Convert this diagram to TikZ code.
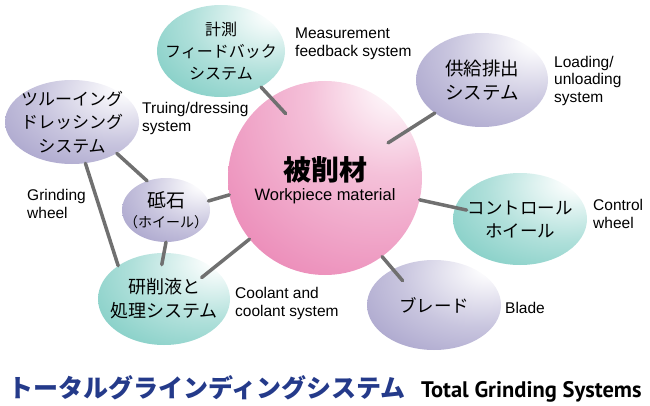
\documentclass[tikz,border=0pt]{standalone}
\usepackage{fontspec}
\setmainfont{Liberation Sans}
\newfontfamily\jp{Noto Sans CJK JP}
\newfontfamily\ttl{PT Sans}
\usetikzlibrary{shapes.geometric}

\definecolor{tealA}{RGB}{110,198,188}
\definecolor{lilacA}{RGB}{156,150,196}
\definecolor{pinkA}{RGB}{236,142,186}
\definecolor{linkgray}{RGB}{112,112,112}
\definecolor{titleblue}{RGB}{36,58,138}

\pgfdeclareradialshading{tealglow}{\pgfpoint{22bp}{22bp}}{color(0bp)=(white); color(3bp)=(white); color(28bp)=(tealA!55!white); color(55bp)=(tealA); color(100bp)=(tealA)}
\pgfdeclareradialshading{lilacglow}{\pgfpoint{22bp}{22bp}}{color(0bp)=(white); color(3bp)=(white); color(28bp)=(lilacA!55!white); color(55bp)=(lilacA); color(100bp)=(lilacA)}
\pgfdeclareradialshading{pinkglow}{\pgfpoint{20bp}{26bp}}{color(0bp)=(white); color(2bp)=(white); color(20bp)=(pinkA!55!white); color(44bp)=(pinkA); color(100bp)=(pinkA)}

\tikzset{
	bubble/.style={ellipse, shade, inner sep=0pt},
	tealbub/.style={bubble, shading=tealglow},
	lilacbub/.style={bubble, shading=lilacglow},
	jptext/.style={inner sep=0pt, align=center, text=black},
	caption/.style={anchor=west, inner sep=0pt, align=left, text=black, font=\fontsize{15.5}{17.5}\selectfont},
	link/.style={draw=linkgray, line width=3.5pt, line cap=round}
}

\begin{document}
\begin{tikzpicture}[x=1pt, y=1pt]

		\useasboundingbox (0,0) rectangle (650,405);

		\node[circle, shade, shading=pinkglow, minimum size=194pt, inner sep=0pt] (work) at (325,227) {};
		\node[tealbub, minimum width=128pt, minimum height=92pt] (keisoku) at (221,354) {};
		\node[lilacbub, minimum width=134pt, minimum height=84pt] (truing) at (72,283) {};
		\node[lilacbub, minimum width=132pt, minimum height=94pt] (kyokyu) at (482,325) {};
		\node[lilacbub, minimum width=88pt, minimum height=64pt] (toishi) at (166,195) {};
		\node[tealbub, minimum width=132pt, minimum height=92pt] (kensaku) at (164,106) {};
		\node[tealbub, minimum width=134pt, minimum height=92pt] (control) at (520,186) {};
		\node[lilacbub, minimum width=134pt, minimum height=90pt] (blade) at (434,100) {};

		\node[jptext, font=\jp\fontsize{28}{30}\selectfont\bfseries] (workjp) at (325,235) {被削材};
		\node[jptext, font=\fontsize{16.5}{18}\selectfont] (worken) at (325,209) {Workpiece material};
		\node[jptext, font=\jp\fontsize{16}{22}\selectfont] (keisokutxt) at (keisoku) {計測\\フィードバック\\システム};
		\node[jptext, font=\jp\fontsize{17}{23.5}\selectfont] (truingtxt) at (truing) {ツルーイング\\ドレッシング\\システム};
		\node[jptext, font=\jp\fontsize{18.5}{24}\selectfont] (kyokyutxt) at (kyokyu) {供給排出\\システム};
		\node[jptext, font=\jp\fontsize{19}{20}\selectfont] (toishitxt) at (toishi) {砥石\\{\fontsize{14}{14}\selectfont（ホイール）}};
		\node[jptext, font=\jp\fontsize{18}{24}\selectfont] (kensakutxt) at (kensaku) {研削液と\\処理システム};
		\node[jptext, font=\jp\fontsize{17.5}{23}\selectfont] (controltxt) at (control) {コントロール\\ホイール};
		\node[jptext, font=\jp\fontsize{17.5}{23}\selectfont] (bladetxt) at (blade) {ブレード};

		\draw[link, shorten >=-22pt] (keisoku.-42) -- (work.124);
		\draw[link, shorten >=-25pt] (kyokyu.215) -- (work.30);
		\draw[link] (truing.-35) -- (toishi.123);
		\draw[link] (truing.-72) -- (kensaku.144);
		\draw[link] (toishi.12) -- (work.190);
		\draw[link, shorten >=-12pt] (toishi.south) -- (kensaku.north);
		\draw[link, shorten <=-15pt] (kensaku.32) -- (work.219);
		\draw[link, shorten >=-12pt] (work.-13) -- (control.170);
		\draw[link, shorten >=-15pt] (work.-54) -- (blade.139);

		\node[caption] (measlbl) at (295,361) {Measurement\\feedback system};
		\node[caption] (truinglbl) at (142,286.5) {Truing/dressing\\system};
		\node[caption] (loadlbl) at (554,324.5) {Loading/\\unloading\\system};
		\node[caption] (wheellbl) at (27,201) {Grinding\\wheel};
		\node[caption] (coollbl) at (235,101.5) {Coolant and\\coolant system};
		\node[caption] (controllbl) at (593,191) {Control\\wheel};
		\node[caption] (bladelbl) at (505,97) {Blade};

		\node[anchor=base west, inner sep=0pt, text=titleblue, font=\jp\fontsize{25}{25}\selectfont\bfseries] (titlejp) at (8,8) {トータルグラインディングシステム};
		\node[anchor=base west, inner sep=0pt, text=black, font=\ttl\fontsize{22.5}{22.5}\selectfont\bfseries] (titleen) at (421,8) {Total Grinding Systems};

	\end{tikzpicture}
\end{document}
